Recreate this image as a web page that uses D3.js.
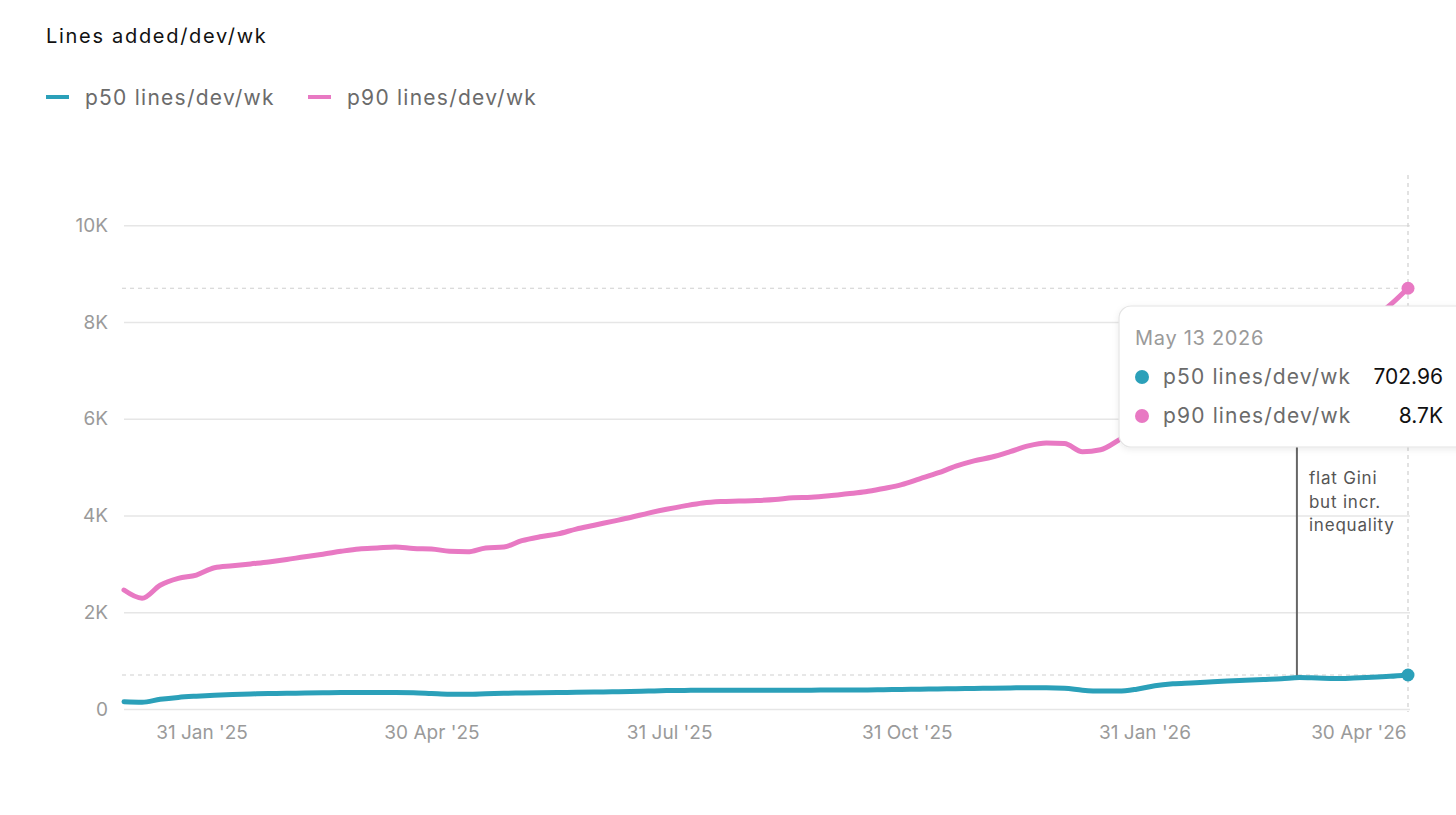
<!DOCTYPE html>
<html>
<head>
<meta charset="utf-8">
<script src="https://cdn.jsdelivr.net/npm/d3@7.9.0/dist/d3.min.js"></script>
<style>
  html, body { margin: 0; padding: 0; background: #fff; }
  svg { display: block; font-family: Inter, "Noto Sans", sans-serif; }
</style>
</head>
<body>
<svg id="chart" width="1456" height="815"></svg>
<script>
// weekly points, Wed 1 Jan 2025 .. Wed 13 May 2026
const weeks = d3.timeDay.range(new Date(2025, 0, 1), new Date(2026, 4, 14), 7);

const p50 = [
  150, 140, 200, 240, 265, 285, 300, 310, 320, 325, 330, 335,
  340, 340, 340, 340, 335, 320, 305, 305, 315, 325, 330, 335,
  340, 345, 350, 355, 360, 370, 380, 385, 390, 390, 390, 390,
  390, 390, 390, 395, 395, 395, 400, 405, 410, 415, 420, 425,
  430, 435, 440, 440, 430, 390, 370, 370, 410, 480, 520, 540,
  560, 580, 595, 610, 625, 650, 640, 630, 640, 655, 675, 702.96
];

const p90 = [
  2460, 2290, 2560, 2700, 2770, 2920, 2960, 3000, 3040, 3090, 3150, 3200,
  3260, 3310, 3330, 3350, 3320, 3310, 3260, 3250, 3330, 3350, 3480, 3560,
  3620, 3720, 3800, 3880, 3960, 4050, 4130, 4200, 4260, 4290, 4300, 4310,
  4330, 4370, 4380, 4410, 4450, 4490, 4560, 4640, 4760, 4880, 5020, 5130,
  5210, 5320, 5440, 5500, 5490, 5320, 5360, 5560, 5800, 5950, 6100, 6250,
  6400, 6550, 6700, 6850, 7000, 7200, 7400, 7600, 7800, 8050, 8350, 8700
];

const seriesNames = ["p50 lines/dev/wk", "p90 lines/dev/wk"];
const seriesColors = ["#2ba0b9", "#e879c3"];

const xTickDates = [new Date(2025, 0, 31), new Date(2025, 3, 30), new Date(2025, 6, 31),
                    new Date(2025, 9, 31), new Date(2026, 0, 31), new Date(2026, 3, 30)];
const xTickLabels = ["31 Jan '25", "30 Apr '25", "31 Jul '25", "31 Oct '25", "31 Jan '26", "30 Apr '26"];
const yTicks = [0, 2000, 4000, 6000, 8000, 10000];

const annotationDate = new Date(2026, 2, 31);
const annotationLines = ["flat Gini", "but incr.", "inequality"];
const tooltipTitle = "May 13 2026";
const tooltipValues = ["702.96", "8.7K"];

const svg = d3.select("#chart");

const x = d3.scaleTime()
  .domain([weeks[0], weeks[weeks.length - 1]])
  .range([124, 1408]);
const y = d3.scaleLinear().domain([0, 11000]).range([709, 177]);

// title
svg.append("text").attr("x", 46).attr("y", 43)
  .attr("font-size", 20).attr("letter-spacing", 1.7).attr("fill", "#111")
  .text("Lines added/dev/wk");

// legend
const legendX = [46, 308];
seriesNames.forEach((name, i) => {
  const g = svg.append("g").attr("transform", `translate(${legendX[i]},97)`);
  g.append("line").attr("x1", 0).attr("x2", 23)
    .attr("stroke", seriesColors[i]).attr("stroke-width", 4);
  g.append("text").attr("x", 39).attr("y", 8)
    .attr("font-size", 21).attr("letter-spacing", 1.25)
    .attr("fill", "#6b6b6b").text(name);
});

// y axis + grid
const yAxis = svg.append("g")
  .attr("transform", "translate(124,0)")
  .call(d3.axisLeft(y).tickValues(yTicks)
    .tickSize(-1286).tickPadding(16)
    .tickFormat(d => d === 0 ? "0" : d / 1000 + "K"));
yAxis.select(".domain").remove();
yAxis.selectAll(".tick line").attr("stroke", "#e6e6e6").attr("stroke-width", 1.5);
yAxis.selectAll(".tick text").attr("font-size", 19).attr("fill", "#9a9a9a")
  .attr("font-family", "Inter, sans-serif");

// x axis
const xAxis = svg.append("g")
  .attr("transform", "translate(0,709)")
  .call(d3.axisBottom(x).tickValues(xTickDates).tickSize(0).tickPadding(17)
    .tickFormat((d, i) => xTickLabels[i]));
xAxis.select(".domain").remove();
xAxis.selectAll(".tick text").attr("font-size", 19).attr("fill", "#9a9a9a")
  .attr("font-family", "Inter, sans-serif");
// keep last label inside the plot
xAxis.selectAll(".tick text").each(function () {
  const b = this.getBBox();
  const tx = x(xTickDates[xTickLabels.indexOf(this.textContent)]);
  if (tx + b.width / 2 > 1406) d3.select(this).attr("dx", 1406 - (tx + b.width / 2));
});

// hover reference lines
const last = weeks.length - 1;
svg.append("line")
  .attr("x1", x(weeks[last])).attr("x2", x(weeks[last]))
  .attr("y1", 175).attr("y2", 712)
  .attr("stroke", "#cfcfcf").attr("stroke-width", 1.2).attr("stroke-dasharray", "4,4");
[p50[last], p90[last]].forEach(v => {
  svg.append("line").attr("x1", 122).attr("x2", 1410)
    .attr("y1", y(v)).attr("y2", y(v))
    .attr("stroke", "#cfcfcf").attr("stroke-width", 1.2).attr("stroke-dasharray", "4,4");
});

// annotation
const ax = x(annotationDate);
svg.append("line").attr("x1", ax).attr("x2", ax)
  .attr("y1", y(5700)).attr("y2", y(650))
  .attr("stroke", "#666").attr("stroke-width", 2);
annotationLines.forEach((t, i) => {
  svg.append("text").attr("x", ax + 12).attr("y", 484 + i * 23.5)
    .attr("font-size", 17).attr("letter-spacing", 0.8)
    .attr("fill", "#555").text(t);
});

// lines
const line = d3.line()
  .x((d, i) => x(weeks[i]))
  .y(d => y(d))
  .curve(d3.curveMonotoneX);

[p50, p90].forEach((s, i) => {
  svg.append("path").datum(s)
    .attr("fill", "none")
    .attr("stroke", seriesColors[i])
    .attr("stroke-width", 5)
    .attr("stroke-linejoin", "round")
    .attr("stroke-linecap", "round")
    .attr("d", line);
  svg.append("circle")
    .attr("cx", x(weeks[last])).attr("cy", y(s[last]))
    .attr("r", 6.5).attr("fill", seriesColors[i]);
});

// tooltip
const defs = svg.append("defs");
const f = defs.append("filter").attr("id", "shadow")
  .attr("x", "-10%").attr("y", "-20%").attr("width", "120%").attr("height", "140%");
f.append("feDropShadow").attr("dx", 0).attr("dy", 2).attr("stdDeviation", 3)
  .attr("flood-color", "#000").attr("flood-opacity", 0.08);

const tip = svg.append("g").attr("transform", "translate(1119,306)");
tip.append("rect").attr("width", 350).attr("height", 141).attr("rx", 12)
  .attr("fill", "#fff").attr("stroke", "#e4e4e4").attr("stroke-width", 1.2)
  .attr("filter", "url(#shadow)");
tip.append("text").attr("x", 16).attr("y", 39)
  .attr("font-size", 20).attr("letter-spacing", 0.7)
  .attr("fill", "#9a9a9a").text(tooltipTitle);
seriesNames.forEach((name, i) => {
  const by = 78 + i * 39;
  tip.append("circle").attr("cx", 23).attr("cy", by - 7).attr("r", 7)
    .attr("fill", seriesColors[i]);
  tip.append("text").attr("x", 44).attr("y", by)
    .attr("font-size", 21).attr("letter-spacing", 1.15)
    .attr("fill", "#6b6b6b").text(name);
  tip.append("text").attr("x", 324).attr("y", by).attr("text-anchor", "end")
    .attr("font-size", 21).attr("fill", "#111").text(tooltipValues[i]);
});
</script>
</body>
</html>
